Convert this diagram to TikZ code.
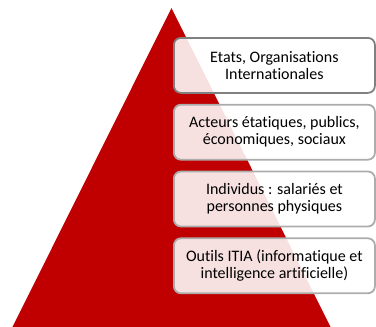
\documentclass[tikz,border=0pt]{standalone}
\usepackage{fontspec}
\setmainfont{Carlito}[Ligatures=NoCommon]
\usetikzlibrary{chains}
\definecolor{rouge}{HTML}{C00000}

\begin{document}
\begin{tikzpicture}
  [ x=1pt, y=-1pt,
    start chain=going below,
    node distance=10pt]
  \tikzset{
    base/.style={
      on chain,
      align=center,
    },
    niveau/.style={
      base,
      rectangle, rounded corners=7pt,
      draw=gray!65, line width=1.8pt,
      fill=white, fill opacity=0.88, text opacity=1,
      minimum height=55pt,
      minimum width=201pt,
      inner sep=2pt,
      font=\fontsize{16}{17}\selectfont,
    },
    sommet/.style={
      niveau,
      draw=gray,
    },
  }
  \useasboundingbox (0,0) rectangle (376,327);

  % la pyramide
  \coordinate (apex) at (171.5,8);
  \coordinate (basg) at (12,328);
  \coordinate (basd) at (331,328);
  \fill[rouge] (apex) -- (basg) -- (basd) -- cycle;

  % les niveaux
  \node[sommet, anchor=north west] (etats) at (173,37)
    {Etats, Organisations\\Internationales};
  \node[niveau] (acteurs) {Acteurs étatiques, publics,\\économiques, sociaux};
  \node[niveau] (individus) {Individus : salariés et\\personnes physiques};
  \node[niveau] (outils) {Outils ITIA (informatique et\\intelligence artificielle)};
\end{tikzpicture}
\end{document}
